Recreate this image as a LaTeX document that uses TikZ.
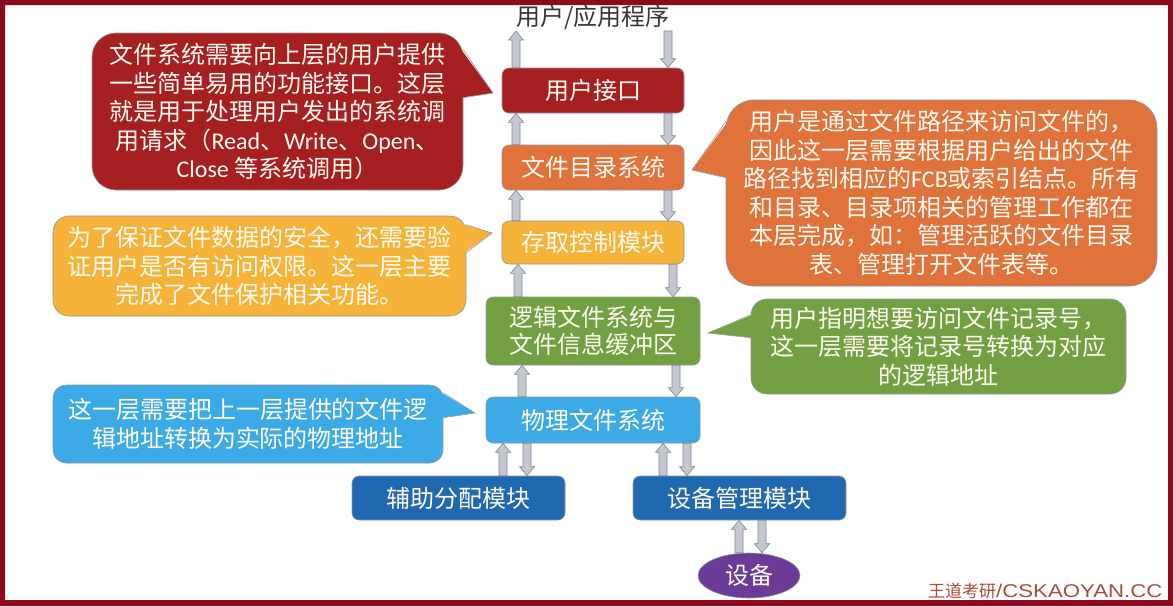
\documentclass[tikz,border=0pt]{standalone}
\usepackage{fontspec}
\setmainfont{Noto Sans CJK SC}
\newfontfamily\latf{Carlito}
\newfontfamily\wmlat[FakeStretch=1.2]{Liberation Sans}
\usetikzlibrary{calc,shapes.geometric}
\definecolor{cRed}{RGB}{166,32,34}
\definecolor{cOrange}{RGB}{224,114,60}
\definecolor{cYellow}{RGB}{245,179,58}
\definecolor{cGreen}{RGB}{114,160,67}
\definecolor{cLBlue}{RGB}{60,170,230}
\definecolor{cDBlue}{RGB}{32,104,176}
\definecolor{cPurple}{RGB}{106,60,152}
\definecolor{cTxt}{RGB}{255,250,240}
\definecolor{cTitle}{RGB}{55,55,55}
\definecolor{cArrFill}{RGB}{196,199,206}
\definecolor{cArrLine}{RGB}{130,136,150}
\definecolor{cFrame}{RGB}{139,10,30}
\definecolor{cWm}{RGB}{168,78,58}
\definecolor{cEdge}{RGB}{150,150,160}
\newcommand\blkarrow[2]{%
  \draw[blockarr] ($(#1)+(-4,0)$) -- ($(#2)!9pt!(#1)+(-4,0)$) -- ($(#2)!9pt!(#1)+(-7.5,0)$)
    -- (#2) -- ($(#2)!9pt!(#1)+(7.5,0)$) -- ($(#2)!9pt!(#1)+(4,0)$) -- ($(#1)+(4,0)$) -- cycle;}
\begin{document}
\begin{tikzpicture}[x=1pt,y=-1pt,
  layer/.style={rectangle, rounded corners=7pt, draw=cEdge, line width=0.6pt, text=cTxt,
    align=center, inner sep=0pt, font=\fontsize{24}{27}\selectfont},
  callout/.style={rectangle, draw=cEdge, line width=0.6pt, text=cTxt, align=center,
    inner sep=0pt, font=\fontsize{24}{28.5}\selectfont},
  ptr/.style={draw=cEdge, line width=0.6pt},
  blockarr/.style={fill=cArrFill, draw=cArrLine, line width=0.6pt, line join=miter}]
\useasboundingbox (0,0) rectangle (1173,606);
\fill[white] (0,0) rectangle (1173,606);

% title
\node[text=cTitle, font=\fontsize{24}{27}\selectfont, inner sep=0pt] (title) at (593,17) {用户/应用程序};
\coordinate (tb) at (593,31);

% layers
\node[layer, fill=cRed, minimum width=182pt, minimum height=45pt] (ui) at (593,90.5) {用户接口};
\node[layer, fill=cOrange, minimum width=182pt, minimum height=45pt] (dir) at (593,167.5) {文件目录系统};
\node[layer, fill=cYellow, minimum width=182pt, minimum height=43pt] (acc) at (593,242.5) {存取控制模块};
\node[layer, fill=cGreen, minimum width=214pt, minimum height=68pt] (log) at (593,331) {逻辑文件系统与\\文件信息缓冲区};
\node[layer, fill=cLBlue, minimum width=214pt, minimum height=46pt] (phy) at (593,420) {物理文件系统};
\node[layer, fill=cDBlue, minimum width=213pt, minimum height=44pt] (aux) at (458.5,498) {辅助分配模块};
\node[layer, fill=cDBlue, minimum width=213pt, minimum height=44pt] (dev) at (739.5,498) {设备管理模块};
\node[ellipse, fill=cPurple, draw=cEdge, line width=0.6pt, text=cTxt, inner sep=0pt,
  minimum width=102pt, minimum height=45pt, font=\fontsize{24}{27}\selectfont] (device) at (749,575.5) {设备};

% arrow x positions
\coordinate (xa) at (516,0); \coordinate (xb) at (668,0);
\coordinate (xc) at (518,0); \coordinate (xd) at (673,0);
\coordinate (xe) at (522,0); \coordinate (xf) at (676,0);
\coordinate (xg) at (503,0); \coordinate (xh) at (527,0);
\coordinate (xi) at (663,0); \coordinate (xj) at (687,0);
\coordinate (xk) at (739,0); \coordinate (xl) at (762,0);

\blkarrow{ui.north -| xa}{tb -| xa}
\blkarrow{tb -| xb}{ui.north -| xb}
\blkarrow{dir.north -| xa}{ui.south -| xa}
\blkarrow{ui.south -| xb}{dir.north -| xb}
\blkarrow{acc.north -| xa}{dir.south -| xa}
\blkarrow{dir.south -| xb}{acc.north -| xb}
\blkarrow{log.north -| xc}{acc.south -| xc}
\blkarrow{acc.south -| xd}{log.north -| xd}
\blkarrow{phy.north -| xe}{log.south -| xe}
\blkarrow{log.south -| xf}{phy.north -| xf}
\blkarrow{aux.north -| xg}{phy.south -| xg}
\blkarrow{phy.south -| xh}{aux.north -| xh}
\blkarrow{dev.north -| xi}{phy.south -| xi}
\blkarrow{phy.south -| xj}{dev.north -| xj}
\blkarrow{device.north -| xk}{dev.south -| xk}
\blkarrow{dev.south -| xl}{device.north -| xl}

% callouts
\node[callout, fill=cRed, rounded corners=24pt, minimum width=371pt, minimum height=157pt] (cr) at (277.5,111.5)
 {文件系统需要向上层的用户提供\\一些简单易用的功能接口。这层\\就是用于处理用户发出的系统调\\用请求（{\latf Read}、{\latf Write}、{\latf Open}、\\{\latf Close} 等系统调用）};
\coordinate (crt) at (493,93);
\fill[cRed] ($(cr.north east)+(-2,17)$) -- (crt) -- ($(cr.north east)+(-2,65)$) -- cycle;
\draw[ptr] ($(cr.north east)+(0,17)$) -- (crt) -- ($(cr.north east)+(0,65)$);

\node[callout, fill=cOrange, rounded corners=28pt, minimum width=431pt, minimum height=186pt] (co) at (941.5,193)
 {用户是通过文件路径来访问文件的，\\因此这一层需要根据用户给出的文件\\路径找到相应的{\latf FCB}或索引结点。所有\\和目录、目录项相关的管理工作都在\\本层完成，如：管理活跃的文件目录\\表、管理打开文件表等。};
\coordinate (cot) at (692,170);
\fill[cOrange] ($(co.north west)+(2,22)$) -- (cot) -- ($(co.north west)+(2,78)$) -- cycle;
\draw[ptr] ($(co.north west)+(0,22)$) -- (cot) -- ($(co.north west)+(0,78)$);

\node[callout, fill=cYellow, rounded corners=16pt, minimum width=413pt, minimum height=100pt] (cy) at (259.5,266)
 {为了保证文件数据的安全，还需要验\\证用户是否有访问权限。这一层主要\\完成了文件保护相关功能。};
\coordinate (cyt) at (492,233);
\fill[cYellow] ($(cy.north east)+(-2,9)$) -- (cyt) -- ($(cy.north east)+(-2,37)$) -- cycle;
\draw[ptr] ($(cy.north east)+(0,9)$) -- (cyt) -- ($(cy.north east)+(0,37)$);

\node[callout, fill=cGreen, rounded corners=16pt, minimum width=375pt, minimum height=95pt] (cg) at (938.5,346.5)
 {用户指明想要访问文件记录号，\\这一层需要将记录号转换为对应\\的逻辑地址};
\coordinate (cgt) at (708,333);
\fill[cGreen] ($(cg.north west)+(2,16)$) -- (cgt) -- ($(cg.north west)+(2,39)$) -- cycle;
\draw[ptr] ($(cg.north west)+(0,16)$) -- (cgt) -- ($(cg.north west)+(0,39)$);

\node[callout, fill=cLBlue, rounded corners=13pt, minimum width=390pt, minimum height=78pt] (cb) at (248,424)
 {这一层需要把上一层提供的文件逻\\辑地址转换为实际的物理地址};
\coordinate (cbt) at (475,413);
\fill[cLBlue] ($(cb.north east)+(-2,8)$) -- (cbt) -- ($(cb.north east)+(-2,33)$) -- cycle;
\draw[ptr] ($(cb.north east)+(0,8)$) -- (cbt) -- ($(cb.north east)+(0,33)$);

% watermark
\node[anchor=base west, inner sep=0pt, text=cWm, font=\fontsize{17}{20}\selectfont] (wm) at (928,597)
 {王道考研{\wmlat\fontsize{18.5}{20}\selectfont/CSKAOYAN.CC}};

% frame
\fill[cFrame, even odd rule] (0,0) rectangle (1173,606) (5,5) rectangle (1168,600);
\end{tikzpicture}
\end{document}
